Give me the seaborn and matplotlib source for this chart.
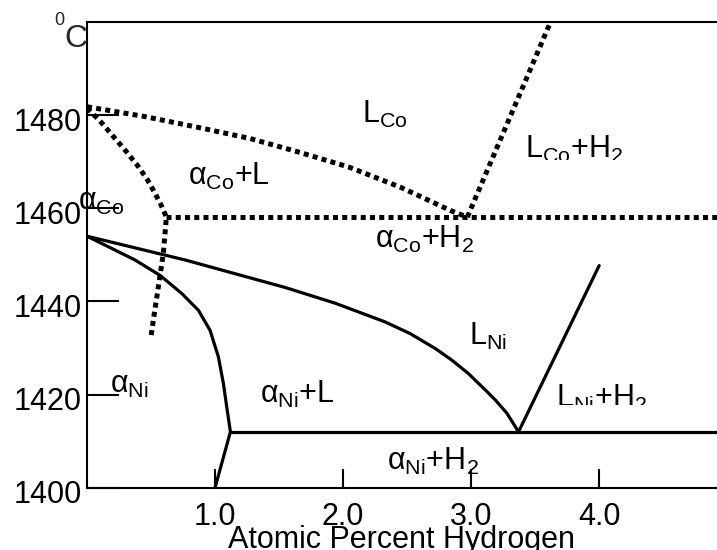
import numpy as np
import pandas as pd
import seaborn as sns
import matplotlib.pyplot as plt
from matplotlib.transforms import Bbox, TransformedBbox, ScaledTranslation

# phase boundaries (x = atomic % H, y = temperature in deg C)
co_liq_x = [0.0, 0.45, 0.88, 1.27, 1.65, 2.05, 2.45, 2.84, 2.97]
co_liq_y = [1481.8, 1479.7, 1477.3, 1475.0, 1472.1, 1468.8, 1464.5, 1459.5, 1458.1]

co_sol_x = [0.0, 0.1, 0.2, 0.3, 0.4, 0.47, 0.53, 0.58, 0.62, 0.596, 0.557, 0.518, 0.5]
co_sol_y = [1481.5, 1478.8, 1475.6, 1472.4, 1469.0, 1466.2, 1463.3, 1460.6, 1458.1,
            1450.3, 1443.1, 1436.0, 1432.4]

co_h2_x = [2.97, 3.62]
co_h2_y = [1458.1, 1500.0]

co_eut_x = [0.62, 4.92]
co_eut_y = [1458.1, 1458.1]

ni_liq_x = [0.0, 0.766, 1.547, 1.94, 2.328, 2.523, 2.719, 2.849, 2.979, 3.11, 3.19, 3.279, 3.37]
ni_liq_y = [1454.0, 1448.9, 1443.0, 1439.6, 1435.6, 1433.1, 1429.9, 1427.4, 1424.5,
            1421.0, 1418.8, 1416.0, 1412.0]

ni_sol_x = [0.0, 0.375, 0.57, 0.74, 0.87, 0.961, 1.026, 1.065, 1.091, 1.12, 1.0]
ni_sol_y = [1454.0, 1448.9, 1445.6, 1441.7, 1438.1, 1433.8, 1428.1, 1422.4, 1417.4, 1412.0, 1400.0]

ni_eut_x = [1.12, 4.92]
ni_eut_y = [1412.0, 1412.0]

ni_h2_x = [3.37, 4.0]
ni_h2_y = [1412.0, 1447.7]

x_ticks = [1.0, 2.0, 3.0, 4.0]
x_ticklabels = ["1.0", "2.0", "3.0", "4.0"]
y_ticks = [1400, 1420, 1440, 1460, 1480]
y_ticklabels = ["1400", "1420", "1440", "1460", "1480"]

# region names: (text, x, y, clip below this y or None)
regions = [
    (r"L$_{\rm Co}$", 2.15, 1478.3, None),
    (r"L$_{\rm Co}$+H$_2$", 3.42, 1470.75, 1470.4),
    (r"α$_{\rm Co}$+L", 0.79, 1465.0, None),
    (r"α$_{\rm Co}$", -0.07, 1459.6, None),
    (r"α$_{\rm Co}$+H$_2$", 2.25, 1451.4, None),
    (r"L$_{\rm Ni}$", 2.98, 1430.6, None),
    (r"α$_{\rm Ni}$", 0.18, 1420.3, None),
    (r"α$_{\rm Ni}$+L", 1.35, 1418.2, None),
    (r"L$_{\rm Ni}$+H$_2$", 3.66, 1417.3, 1417.7),
    (r"α$_{\rm Ni}$+H$_2$", 2.34, 1403.8, None),
]

sns.set_theme(style="white")
plt.rcParams['font.family'] = ['Liberation Sans', 'DejaVu Sans']
plt.rcParams['mathtext.fontset'] = 'custom'
plt.rcParams['mathtext.rm'] = 'Liberation Sans'
plt.rcParams['mathtext.it'] = 'Liberation Sans'
plt.rcParams['mathtext.default'] = 'regular'

fig = plt.figure(figsize=(7.17, 5.5), dpi=100)
ax = fig.add_axes([87 / 717, 62.3 / 550, 630 / 717, 465.7 / 550])

dotted = dict(color="black", lw=3.6, linestyle=(0, (1, 0.85)), dash_capstyle="butt")
solid = dict(color="black", lw=2.3)

for xs, ys in [(co_liq_x, co_liq_y), (co_sol_x, co_sol_y), (co_h2_x, co_h2_y), (co_eut_x, co_eut_y)]:
    sns.lineplot(x=xs, y=ys, sort=False, estimator=None, ax=ax, **dotted)
for xs, ys in [(ni_liq_x, ni_liq_y), (ni_sol_x, ni_sol_y), (ni_eut_x, ni_eut_y), (ni_h2_x, ni_h2_y)]:
    sns.lineplot(x=xs, y=ys, sort=False, estimator=None, ax=ax, **solid)

ax.set_xlim(0, 4.92)
ax.set_ylim(1400, 1500)
ax.set_xticks(x_ticks, x_ticklabels)
ax.set_yticks(y_ticks, y_ticklabels)
ax.tick_params(axis="both", direction="in", colors="black", labelsize=22, width=1.5,
               left=True, bottom=True)
ax.tick_params(axis="y", length=23, pad=4)
ax.tick_params(axis="x", length=13.7, pad=10)
ax.set_xlabel("Atomic Percent Hydrogen", fontsize=22, labelpad=-5, color="black")
ax.set_ylabel("")

# temperature labels sit a little below their ticks in the original
shift = ScaledTranslation(0, -4 / 100, fig.dpi_scale_trans)
for lab in ax.get_yticklabels():
    lab.set_transform(lab.get_transform() + shift)

for side in ["left", "top", "bottom"]:
    ax.spines[side].set_color("black")
    ax.spines[side].set_linewidth(1.5)
ax.spines["right"].set_visible(False)

for txt, x, y, clip in regions:
    t = ax.text(x, y, txt, fontsize=22, ha="left", va="baseline", color="black")
    if clip is not None:
        t.set_clip_box(TransformedBbox(Bbox([[0, clip], [5, 1500]]), ax.transData))
        t.set_clip_on(True)

# degree sign / unit at top of the temperature axis
fig.text(88 / 717, 1 - 47 / 550, "C", fontsize=23, ha="right", va="baseline")
fig.text(64 / 717, 1 - 25 / 550, "0", fontsize=13, ha="right", va="baseline")

fig.savefig("out.png", dpi=100)
